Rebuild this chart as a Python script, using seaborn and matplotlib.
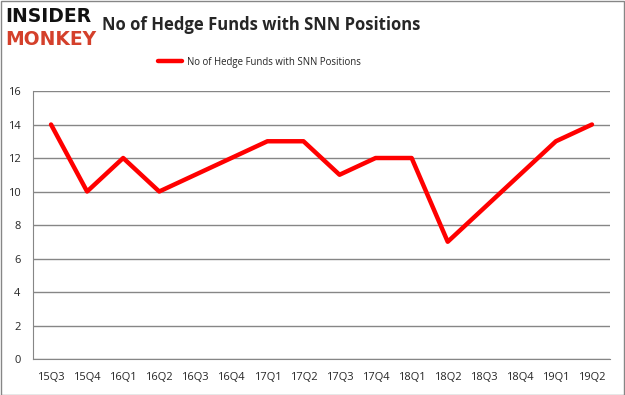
import numpy as np
import pandas as pd
import seaborn as sns
import matplotlib.pyplot as plt

quarters = ["15Q3", "15Q4", "16Q1", "16Q2", "16Q3", "16Q4", "17Q1", "17Q2",
            "17Q3", "17Q4", "18Q1", "18Q2", "18Q3", "18Q4", "19Q1", "19Q2"]
hedge_funds = [14, 10, 12, 10, 11, 12, 13, 13, 11, 12, 12, 7, 9, 11, 13, 14]
series_name = "No of Hedge Funds with SNN Positions"

df = pd.DataFrame({"idx": np.arange(len(quarters)), "quarter": quarters,
                   "funds": hedge_funds})

sns.set_style("white")
plt.rcParams["font.family"] = ["Open Sans", "DejaVu Sans"]

fig = plt.figure(figsize=(6.25, 3.95), dpi=100)
ax = fig.add_axes([0.0528, 0.0911, 0.9232, 0.6785])

sns.lineplot(data=df, x="idx", y="funds", color="#ff0000", linewidth=3.2,
             ax=ax, label=series_name)

ax.set_xlim(-0.5, len(quarters) - 0.5)
ax.set_ylim(0, 16)
ax.set_yticks(range(0, 17, 2))
ax.yaxis.grid(True, color="#868686", linewidth=1)
ax.set_xlabel("")
ax.set_ylabel("")

# category axis: tick marks between categories, labels at centres
ax.set_xticks(np.arange(-0.5, len(quarters), 1.0))
ax.set_xticklabels([])
ax.set_xticks(np.arange(len(quarters)), minor=True)
ax.set_xticklabels(quarters, minor=True)
ax.tick_params(axis="x", which="major", length=5, color="#868686", direction="out")
ax.tick_params(axis="x", which="minor", length=0, labelsize=8, pad=9)
ax.tick_params(axis="y", length=3, color="#868686", labelsize=8, direction="out")
ax.tick_params(axis="y", pad=6)

for side in ["top", "right"]:
    ax.spines[side].set_visible(False)
for side in ["left", "bottom"]:
    ax.spines[side].set_color("#868686")

ax.legend(loc="center", bbox_to_anchor=(0.393, 1.108), frameon=False,
          fontsize=6.9, handlelength=2.5, handletextpad=0.5)

fig.text(0.163, 0.937, series_name, fontsize=12, fontweight="bold", va="center")
fig.text(0.008, 0.957, "INSIDER", fontsize=13.5, fontweight="heavy",
         family="DejaVu Sans", color="#111111", va="center")
fig.text(0.008, 0.901, "MONKEY", fontsize=13.5, fontweight="heavy",
         family="DejaVu Sans", color="#d4402b", va="center")

fig.patches.append(plt.Rectangle((0.001, 0.001), 0.997, 0.997, fill=False,
                                 edgecolor="#868686", linewidth=1,
                                 transform=fig.transFigure))

fig.savefig("out.png", dpi=100)
